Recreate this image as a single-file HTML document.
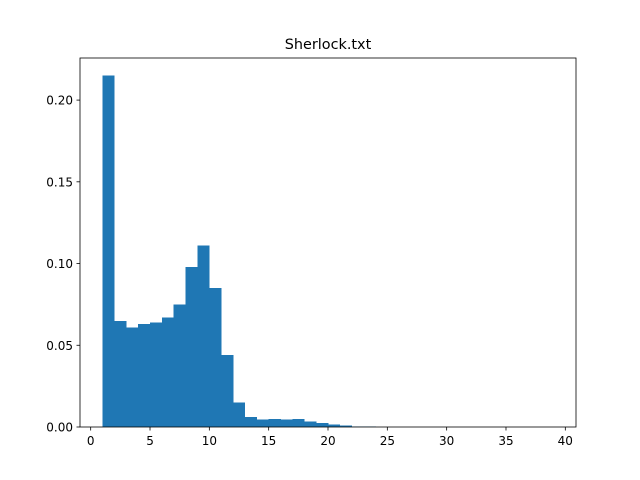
<!DOCTYPE html>
<html><head><meta charset="utf-8"><style>
body{margin:0;background:#fff}
svg{display:block;font-family:"DejaVu Sans","Liberation Sans",sans-serif}
</style></head><body>
<svg id="chart" width="640" height="480" viewBox="0 0 640 480">
<rect width="640" height="480" fill="#fff"/>
<text x="328" y="49" font-size="14.4" text-anchor="middle">Sherlock.txt</text>
<g id="bars" shape-rendering="crispEdges"></g>
<rect x="80" y="58" width="496" height="369" fill="none" stroke="#000" stroke-width="0.8"/>
<g id="axes"></g>
</svg>
<script>
const binStarts=[1,2,3,4,5,6,7,8,9,10,11,12,13,14,15,16,17,18,19,20,21,22,23,24,25,26,27,28,29,30,31,32,33,34,35,36,37,38];
const binValues=[0.215,0.065,0.061,0.063,0.064,0.067,0.075,0.098,0.111,0.085,0.044,0.015,0.006,0.0045,0.005,0.0045,0.005,0.0035,0.0025,0.0015,0.0008,0.0003,0.0002,0.0001,0.0001,0.0001,0,0,0,0,0,0,0,0,0,0,0,0.0001];
const xTicks=[0,5,10,15,20,25,30,35,40];
const yTicks=[0,0.05,0.10,0.15,0.20];
const yTickLabels=["0.00","0.05","0.10","0.15","0.20"];
const binWidth=1;
const L=80,R=576,T=58,B=427;
const xmin=-0.9,xmax=40.9,ymax=0.215*1.05;
const sx=v=>L+(v-xmin)/(xmax-xmin)*(R-L);
const sy=v=>B-v/ymax*(B-T);
const NS="http://www.w3.org/2000/svg";
const bars=document.getElementById('bars'),axes=document.getElementById('axes');
binStarts.forEach((s,i)=>{
 const r=document.createElementNS(NS,'rect');
 const x0=sx(s),x1=sx(s+binWidth),y=sy(binValues[i]);
 r.setAttribute('x',x0);r.setAttribute('width',x1-x0+0.3);
 r.setAttribute('y',y);r.setAttribute('height',B-y);
 r.setAttribute('fill','#1f77b4');
 
 
 bars.appendChild(r);
});
xTicks.forEach(t=>{
 const x=sx(t);
 const l=document.createElementNS(NS,'line');
 l.setAttribute('x1',x);l.setAttribute('x2',x);l.setAttribute('y1',B);l.setAttribute('y2',B+3.5);
 l.setAttribute('stroke','#000');l.setAttribute('stroke-width','0.8');
 
 
 axes.appendChild(l);
 const tx=document.createElementNS(NS,'text');
 tx.setAttribute('x',x);tx.setAttribute('y',B+18);tx.setAttribute('font-size','12');tx.setAttribute('text-anchor','middle');
 tx.textContent=t;
 
 
 axes.appendChild(tx);
});
yTicks.forEach((t,i)=>{
 const y=sy(t);
 const l=document.createElementNS(NS,'line');
 l.setAttribute('x1',L-3.5);l.setAttribute('x2',L);l.setAttribute('y1',y);l.setAttribute('y2',y);
 l.setAttribute('stroke','#000');l.setAttribute('stroke-width','0.8');
 
 
 axes.appendChild(l);
 const tx=document.createElementNS(NS,'text');
 tx.setAttribute('x',L-7);tx.setAttribute('y',y+4.5);tx.setAttribute('font-size','12');tx.setAttribute('text-anchor','end');
 tx.textContent=yTickLabels[i];
 
 
 axes.appendChild(tx);
});
</script>
</body></html>
